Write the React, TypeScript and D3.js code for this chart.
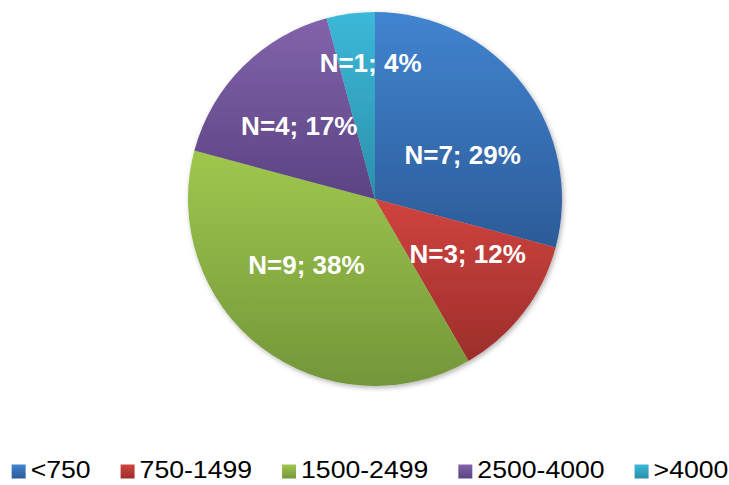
import React, { useEffect, useRef } from "react";
import * as d3 from "d3";

// Cost bands and number of cases in each
const categories = ["<750", "750-1499", "1500-2499", "2500-4000", ">4000"];
const counts = [7, 3, 9, 4, 1];

// Slice gradient colours (top -> bottom)
const colorsTop = ["#4184d0", "#d0433f", "#9fc74d", "#8263ab", "#3cb8d8"];
const colorsBottom = ["#2c5b98", "#9c2e2b", "#74963a", "#5b4382", "#2b90ab"];

const W = 729;
const H = 485;
const CX = 375;
const CY = 199;
const R = 187;
const LABEL_R = 0.55 * R;
// Fine placement of the data labels relative to each slice centroid
const labelNudge: [number, number][] = [
  [6, 18],
  [11, -8],
  [-6, -16],
  [-3, -1],
  [9, -34],
];

const FONT = "'Liberation Sans', Arial, Helvetica, sans-serif";

// Whole-number percentages that add up to 100 (largest remainder)
function roundedPercents(values: number[]): number[] {
  const total = d3.sum(values);
  const raw = values.map((v) => (v / total) * 100);
  const out = raw.map((p) => Math.floor(p));
  let left = 100 - d3.sum(out);
  const order = raw
    .map((p, i) => ({ i, rem: p - Math.floor(p), v: values[i] }))
    .sort((a, b) => b.rem - a.rem || b.v - a.v);
  for (const o of order) {
    if (left <= 0) break;
    out[o.i] += 1;
    left -= 1;
  }
  return out;
}

export default function App() {
  const ref = useRef<SVGSVGElement>(null);

  useEffect(() => {
    const svg = d3.select(ref.current);
    svg.selectAll("*").remove();

    const defs = svg.append("defs");
    categories.forEach((_, i) => {
      const g = defs
        .append("linearGradient")
        .attr("id", `grad${i}`)
        .attr("x1", 0)
        .attr("y1", 0)
        .attr("x2", 0)
        .attr("y2", 1);
      g.append("stop").attr("offset", "0%").attr("stop-color", colorsTop[i]);
      g.append("stop").attr("offset", "100%").attr("stop-color", colorsBottom[i]);
    });
    const shadow = defs
      .append("filter")
      .attr("id", "shadow")
      .attr("x", "-10%")
      .attr("y", "-10%")
      .attr("width", "120%")
      .attr("height", "120%");
    shadow
      .append("feDropShadow")
      .attr("dx", 1.5)
      .attr("dy", 2)
      .attr("stdDeviation", 2.5)
      .attr("flood-color", "#000")
      .attr("flood-opacity", 0.3);

    const pie = d3
      .pie<number>()
      .sort(null)
      .value((d) => d);
    const arcs = pie(counts);
    const arc = d3
      .arc<d3.PieArcDatum<number>>()
      .innerRadius(0)
      .outerRadius(R);
    const labelArc = d3
      .arc<d3.PieArcDatum<number>>()
      .innerRadius(LABEL_R)
      .outerRadius(LABEL_R);

    const g = svg.append("g").attr("transform", `translate(${CX},${CY})`);
    g.append("g")
      .attr("filter", "url(#shadow)")
      .selectAll("path")
      .data(arcs)
      .join("path")
      .attr("d", arc)
      .attr("fill", (_, i) => `url(#grad${i})`);

    const pct = roundedPercents(counts);
    g.selectAll("text.lbl")
      .data(arcs)
      .join("text")
      .attr("class", "lbl")
      .attr("x", (d, i) => labelArc.centroid(d)[0] + labelNudge[i][0])
      .attr("y", (d, i) => labelArc.centroid(d)[1] + labelNudge[i][1])
      .attr("dy", "0.36em")
      .attr("text-anchor", "middle")
      .attr("font-family", FONT)
      .attr("font-weight", "bold")
      .attr("font-size", 26)
      .attr("fill", "#ffffff")
      .text((d, i) => `N=${d.data}; ${pct[i]}%`);

    // Legend along the bottom
    const legend = svg.append("g");
    const items = categories.map((c, i) => {
      const item = legend.append("g");
      item
        .append("rect")
        .attr("width", 14)
        .attr("height", 14)
        .attr("fill", `url(#grad${i})`);
      const t = item
        .append("text")
        .attr("x", 19)
        .attr("y", 13.5)
        .attr("font-family", FONT)
        .attr("font-size", 23)
        .attr("fill", "#000")
        .text(c);
      const natural = (t.node() as SVGTextElement).getComputedTextLength();
      const width = natural * 1.157;
      t.attr("textLength", width).attr("lengthAdjust", "spacingAndGlyphs");
      return { item, w: 19 + width };
    });
    const gap = 30;
    const total = d3.sum(items, (d) => d.w) + gap * (items.length - 1);
    let x = 370 - total / 2;
    items.forEach((d) => {
      d.item.attr("transform", `translate(${x},464.5)`);
      x += d.w + gap;
    });
  }, []);

  return (
    <svg
      ref={ref}
      width={W}
      height={H}
      style={{ position: "absolute", left: 0, top: 0, background: "#fff" }}
    />
  );
}
